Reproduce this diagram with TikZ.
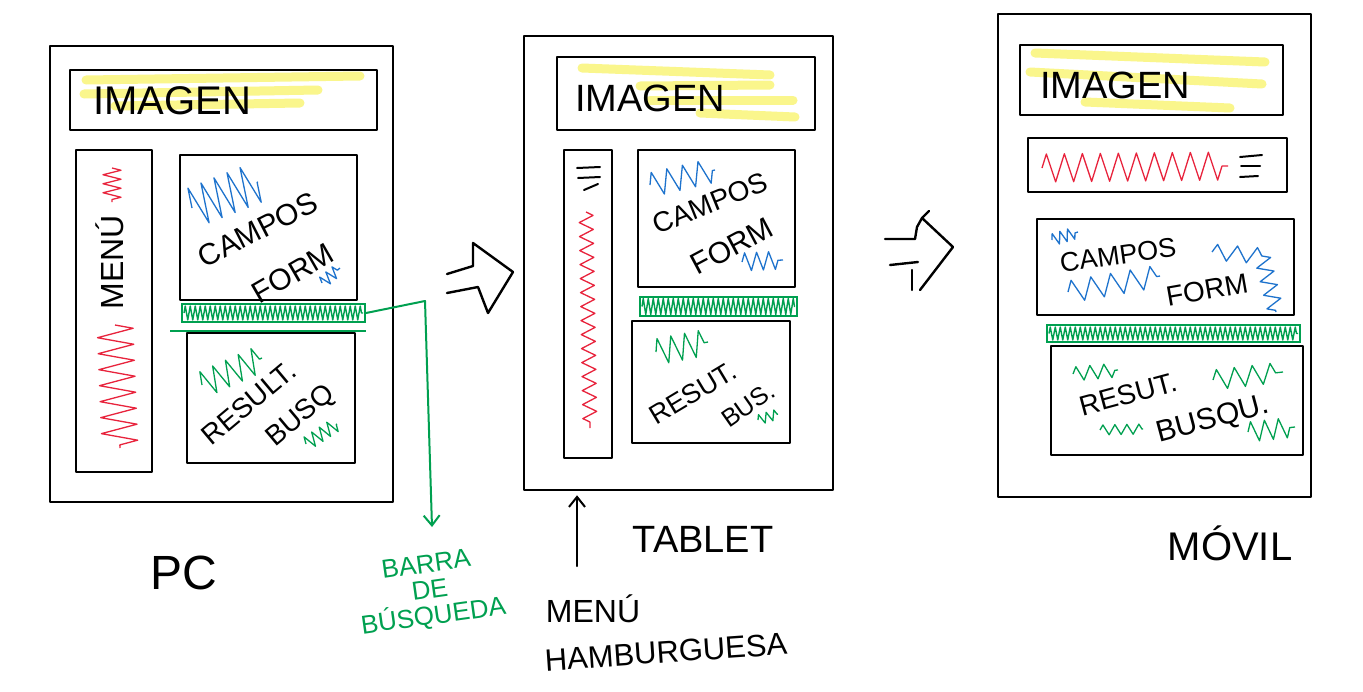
\documentclass[tikz,border=0pt]{standalone}
\usepackage{fontspec}
\setmainfont{Liberation Sans}
\usetikzlibrary{decorations.pathmorphing,arrows.meta}
\definecolor{hly}{RGB}{250,246,140}
\definecolor{sg}{RGB}{0,160,80}
\definecolor{sb}{RGB}{30,115,205}
\definecolor{sr}{RGB}{232,35,60}
\newcommand\tfs[1]{\fontsize{#1}{#1}\selectfont}
\begin{document}
\begin{tikzpicture}[x=1pt,y=-1pt,
  box/.style={draw=black, line width=2.6pt, line join=round, inner sep=0pt},
  bar/.style={draw=sg, line width=2pt, inner sep=0pt},
  zz/.style 2 args={decorate, decoration={zigzag, segment length=#1, amplitude=#2}, line width=1.3pt, line join=round},
  hl/.style={draw=hly, line width=9pt, line cap=round},
  txt/.style={inner sep=0pt, text=black},
  pen/.style={draw=black, line width=2.4pt, line cap=round, line join=round},
  gconn/.style={draw=sg, line width=2pt, line join=round},
  barb/.style={-{Straight Barb[length=10pt,width=16pt,line width=2pt]}},
]
\useasboundingbox (0,0) rectangle (1363,691);
\fill[white] (0,0) rectangle (1363,691);

% ================= PC =================
\draw[hl] (86,80) -- (360,76);
\draw[hl] (84,94) -- (318,90);
\draw[hl] (115,106) -- (300,103);
\node[box, minimum width=343pt, minimum height=456pt] (pcout) at (221.5,274) {};
\node[box, minimum width=307pt, minimum height=60pt] (pcimg) at (223.5,100) {};
\node[box, minimum width=76pt, minimum height=322pt] (pcmenu) at (114,311) {};
\node[box, minimum width=177pt, minimum height=145pt] (pcform) at (268.5,227.5) {};
\node[box, minimum width=168pt, minimum height=130pt] (pcres) at (271,398) {};
\node[bar, minimum width=183pt, minimum height=18pt] (pcbar) at (273.5,313) {};
\draw[sg, zz={5}{7}, line width=1.4pt] ([xshift=3pt]pcbar.west) -- ([xshift=-3pt]pcbar.east);
\coordinate (pcgl) at (170,331);
\draw[gconn] (pcgl) -- ([yshift=-8pt]pcbar.south east);

\node[txt, font=\tfs{40}] (pcimgt) at (172,101) {IMAGEN};
\node[txt, font=\tfs{32}, rotate=90] (pcmenut) at (110,262) {MENÚ};
\node[txt, font=\tfs{30}, rotate=27] (pcformA) at (258,230) {CAMPOS};
\node[txt, font=\tfs{30}, rotate=30] (pcformB) at (293,273) {FORM};
\node[txt, font=\tfs{28}, rotate=40] (pcresA) at (249,403) {RESULT.};
\node[txt, font=\tfs{28}, rotate=40] (pcresB) at (301,417) {BUSQ};

\draw[sr, zz={9}{9}] (112,168) -- (112,202);
\draw[sr, zz={16}{18}] (115,325) -- (120,448);
\draw[sb, zz={14}{20}] (192,208) -- (258,182);
\draw[sb, zz={8}{6}] (322,283) -- (340,268);
\draw[sg, zz={14}{13}] (202,385) -- (262,358);
\draw[sg, zz={9}{7}] (306,444) -- (337,424);

\node[txt, font=\tfs{48}] (pclbl) at (184,573) {PC};

% connector to label
\node[txt, text=sg, font=\tfs{26}, align=center, rotate=8] (barlbl) at (430,592) {BARRA\\DE\\BÚSQUEDA};
\coordinate (barturn) at (425,301);
\draw[gconn, barb, draw=sg] (pcbar.east) -- (barturn) -- (432,527);

% arrow 1
\draw[pen] (447,274) -- (473,266) -- (473,243) -- (513,272) -- (488,313) -- (478,287) -- (447,293);

% ================= TABLET =================
\draw[hl] (582,68) -- (770,75);
\draw[hl] (640,86) -- (770,85);
\draw[hl] (650,100) -- (793,100);
\draw[hl] (700,113) -- (795,117);
\node[box, minimum width=309pt, minimum height=454pt] (tbout) at (678.5,263) {};
\node[box, minimum width=258pt, minimum height=73pt] (tbimg) at (686,93.5) {};
\node[box, minimum width=48pt, minimum height=308pt] (tbmenu) at (588,304) {};
\node[box, minimum width=157pt, minimum height=137pt] (tbform) at (716.5,218.5) {};
\node[box, minimum width=158pt, minimum height=122pt] (tbres) at (711,382) {};
\node[bar, minimum width=157pt, minimum height=19pt] (tbbar) at (718.5,306.5) {};
\draw[sg, zz={5}{8}, line width=1.4pt] ([xshift=3pt]tbbar.west) -- ([xshift=-3pt]tbbar.east);

\node[txt, font=\tfs{38}] (tbimgt) at (650,98) {IMAGEN};
\node[txt, font=\tfs{28}, rotate=22] (tbformA) at (710,203) {CAMPOS};
\node[txt, font=\tfs{30}, rotate=28] (tbformB) at (732,246) {FORM};
\node[txt, font=\tfs{27}, rotate=31] (tbresA) at (693,393) {RESUT.};
\node[txt, font=\tfs{25}, rotate=35] (tbresB) at (748,405) {BUS.};

\draw[pen, line width=2pt] (577,168) -- (600,167);
\draw[pen, line width=2pt] (578,178) -- (600,177);
\draw[pen, line width=2pt] (584,190) -- (598,184);
\draw[sr, zz={14}{7}] (586,212) -- (590,428);
\draw[sb, zz={16}{12}] (650,185) -- (715,170);
\draw[sb, zz={12}{9}] (742,262) -- (783,260);
\draw[sg, zz={14}{13}] (656,352) -- (708,342);
\draw[sg, zz={8}{5}] (758,420) -- (778,414);

\coordinate (hamtop) at (577,566);
\draw[pen, barb] (hamtop) -- ([yshift=-4pt]hamtop |- tbout.south);
\node[txt, font=\tfs{38}] (tblbl) at (703,539) {TABLET};
\node[txt, font=\tfs{32}] (hamA) at (593,609) {MENÚ};
\node[txt, font=\tfs{31}, rotate=4] (hamB) at (666,652) {HAMBURGUESA};

% arrow 2
\draw[pen] (885,239) -- (915,239) -- (917,227) -- (922,218) -- (953,247) -- (920,290);
\draw[pen] (922,218) -- (929,211);
\draw[pen] (890,265) -- (918,262);
\draw[pen] (912,270) -- (912,290);

% ================= MOVIL =================
\draw[hl] (1035,53) -- (1265,62);
\draw[hl] (1030,72) -- (1262,84);
\draw[hl] (1085,102) -- (1230,108);
\node[box, minimum width=313pt, minimum height=483pt] (mvout) at (1154.5,255.5) {};
\node[box, minimum width=263pt, minimum height=70pt] (mvimg) at (1151.5,80) {};
\node[box, minimum width=259pt, minimum height=54pt] (mvmenu) at (1157.5,165) {};
\node[box, minimum width=257pt, minimum height=96pt] (mvform) at (1165.5,267) {};
\node[box, minimum width=252pt, minimum height=109pt] (mvres) at (1177,400.5) {};
\node[bar, minimum width=253pt, minimum height=17pt] (mvbar) at (1173.5,333.5) {};
\draw[sg, zz={5}{6.5}, line width=1.4pt] ([xshift=3pt]mvbar.west) -- ([xshift=-3pt]mvbar.east);

\node[txt, font=\tfs{38}] (mvimgt) at (1115,85) {IMAGEN};
\node[txt, font=\tfs{27}, rotate=8] (mvformA) at (1118,255) {CAMPOS};
\node[txt, font=\tfs{28}, rotate=10] (mvformB) at (1207,290) {FORM};
\node[txt, font=\tfs{28}, rotate=15] (mvresA) at (1128,394) {RESUT.};
\node[txt, font=\tfs{30}, rotate=15] (mvresB) at (1213,420) {BUSQU.};

\draw[sr, zz={18}{14}] (1042,168) -- (1228,166);
\draw[pen, line width=2pt] (1240,157) -- (1262,155);
\draw[pen, line width=2pt] (1241,166) -- (1260,166);
\draw[pen, line width=2pt] (1240,177) -- (1258,176);
\draw[sb, zz={8}{6}] (1052,240) -- (1078,232);
\draw[sb, zz={20}{11}] (1068,292) -- (1160,276);
\draw[sb, zz={20}{8}] (1212,252) -- (1262,256);
\draw[sb, zz={14}{8}] (1262,256) -- (1276,312);
\draw[sg, zz={14}{7}] (1073,374) -- (1118,370);
\draw[sg, zz={12}{5}] (1100,430) -- (1143,429);
\draw[sg, zz={18}{10}] (1213,380) -- (1283,372);
\draw[sg, zz={14}{10}] (1248,432) -- (1295,427);

\node[txt, font=\tfs{40}] (mvlbl) at (1230,543) {MÓVIL};
\end{tikzpicture}
\end{document}
